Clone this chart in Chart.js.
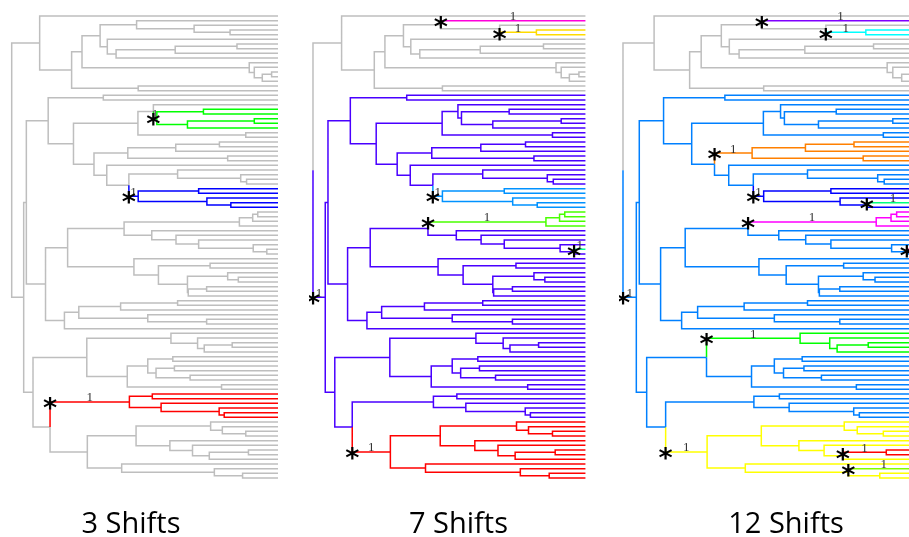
<!DOCTYPE html>
<html>
<head>
<meta charset="utf-8">
<script src="https://cdn.jsdelivr.net/npm/chart.js@4.4.1/dist/chart.umd.min.js"></script>
<style>
html,body{margin:0;padding:0;background:#fff;width:909px;height:537px;overflow:hidden;position:relative}
canvas{position:absolute;top:0}
</style>
</head>
<body>
<canvas id="c0"></canvas>
<canvas id="c1"></canvas>
<canvas id="c2"></canvas>
<script>
// ---------------- DATA ----------------
// Phylogeny: internal node = [depth (0 = root, 100 = tips), optional id, ...children]; leaf = tip number (top to bottom)
const TIP_DEPTH = 100;
const tree =
[0, "root",
  [10.5, "A",
    1,
    [22.5,
      [26.4,
        [33.2,
          [46.9, 2, [68.5, 3, [82.0, "n45", 4, 5]]],
          [35.9, 6, [39.2, [61.4, [84.6, 7, 8], 9], 10]]
        ],
        [89.2, 11, [91.1, 12, [94.1, [97.6, 13, 14], 15]]]
      ],
      [47.5, 16, 17]
    ]
  ],
  [4.5, "B",
    [5.5,
      [13.7,
        [34.4, 18, 19],
        [23.2,
          [47.4,
            [53.2, 20, [54.5, "gA", [72.0, 21, 22], [66.0, [91.1, 23, 24], 25]]],
            [87.9, 26, 27]
          ],
          [30.9,
            [43.6, "oR", [61.6, [78.0, 28, 29], 30], [81.1, 31, 32]],
            [35.7, 33,
              [44.0,
                [62.3, 34, [86.0, 35, [88.2, 36, 37]]],
                [47.5, "bL", [70.2, 38, 39], [73.3, 40, [82.3, 41, 42]]]
              ]
            ]
          ]
        ]
      ],
      [12.7,
        [21.0,
          [42.2,
            [85.5, "mG", [90.5, [92.4, 43, 44], 45], 46],
            [52.6, 47, [61.7, 48, [70.2, 49, [90.7, 50, [95.8, 51, 52]]]]]
          ],
          [45.9, 53,
            [55.1,
              [74.5, 54, 55],
              [66.0, [81.1, 56, [85.1, 57, 58]], [66.3, [73.2, 59, 60], 61]]
            ]
          ]
        ],
        [19.8,
          [25.2,
            [40.9, [62.3, 62, 63], 64],
            [51.1, 65, [73.2, 66, 67]]
          ],
          68
        ]
      ]
    ],
    [8.0,
      [28.2,
        [59.8, "gR", 69, [69.8, 70, [72.3, [82.8, 71, 72], 73]]],
        [43.4,
          [51.1, [60.5, 74, 75], [54.2, [61.1, 76, 77], [67.0, 78, 79]]],
          [78.8, 80, 81]
        ]
      ],
      [14.4,
        [44.2, "rD", [52.8, 82, 83], [56.1, 84, [77.9, 85, [79.8, 86, 87]]]],
        [28.4, "yL",
          [46.7,
            [74.7, 88, [79.1, 89, [87.9, 90, 91]]],
            [59.4, 92, [67.9, 93, [74.2, [88.9, "rE", 94, 95], 96]]]
          ],
          [41.3, 97, [76.1, 98, [86.7, 99, 100]]]
        ]
      ]
    ]
  ]
];

const panelTitles = ["3 Shifts", "7 Shifts", "12 Shifts"];
const backgroundColor = "#BEBEBE";
const branchLabel = "1";

// shifted branches (node id or tip number) and their regime colours
const shifts3 = ["gA", "bL", "rD"];
const colors3 = ["#00FF00", "#0000FF", "#FF0000"];
const shifts7 = ["B", 2, "n45", "bL", "mG", 51, "yL"];
const colors7 = ["#4900FF", "#FF00DB", "#FFDB00", "#0092FF", "#49FF00", "#00FF92", "#FF0000"];
const shifts12 = ["B", 2, "n45", "oR", "bL", 41, "mG", 51, "gR", "yL", "rE", 98];
const colors12 = ["#0080FF", "#8000FF", "#00FFFF", "#FF8000", "#0000FF", "#00FF80", "#FF00FF", "#FF0080", "#00FF00", "#FFFF00", "#FF0000", "#80FF00"];

// ---------------- LAYOUT (pixels) ----------------
const panelGeom = [
  {root: 11.7, tip: 278.0, title: 131},
  {root: 312.7, tip: 585.7, title: 458.5},
  {root: 622.7, tip: 919.4, title: 786}
];
const PAD_TOP = 16, TITLE_PAD = 32, TITLE_SIZE = 29;
const CANVAS_H = 539;

// ---------------- BUILD ----------------
function layoutTree(node) {
  if (typeof node === 'number') return {tip: node, d: TIP_DEPTH, y: node, kids: []};
  let rest = node.slice(1), id = null;
  if (typeof rest[0] === 'string') { id = rest[0]; rest = rest.slice(1); }
  const kids = rest.map(layoutTree);
  return {id, d: node[0], y: (kids[0].y + kids[kids.length - 1].y) / 2, kids};
}
const laid = layoutTree(tree);

function collect(n, color, shiftMap, out, marks) {
  for (const k of n.kids) {
    const key = k.tip !== undefined ? k.tip : k.id;
    let c = color;
    if (key !== null && shiftMap.has(key)) {
      c = shiftMap.get(key);
      marks.push({pd: n.d, cd: k.d, cy: k.y});
    }
    if (!out.has(c)) out.set(c, []);
    out.get(c).push({x: n.d, y: n.y}, {x: n.d, y: k.y}, {x: k.d, y: k.y}, {x: k.d, y: null});
    collect(k, c, shiftMap, out, marks);
  }
}

const shiftMarks = {
  id: 'shiftMarks',
  afterDatasetsDraw(chart, args, opts) {
    const {ctx} = chart, xs = chart.scales.x, ys = chart.scales.y;
    ctx.save();
    for (const m of opts.marks) {
      const px = xs.getPixelForValue(m.pd);
      const py = ys.getPixelForValue(m.cy);
      const mx = xs.getPixelForValue((m.pd + m.cd) / 2);
      ctx.font = '13px "Liberation Serif"';
      ctx.fillStyle = '#333';
      ctx.textAlign = 'center';
      ctx.textBaseline = 'alphabetic';
      ctx.fillText(branchLabel, mx, py - 0.5);
      ctx.font = 'bold 27px "DejaVu Sans"';
      ctx.fillStyle = '#000';
      const mt = ctx.measureText('*');
      const cy = py + 1.7;
      ctx.fillText('*', px, cy + (mt.actualBoundingBoxAscent - mt.actualBoundingBoxDescent) / 2);
    }
    ctx.restore();
  }
};

function makePanel(i, shifts, colors) {
  const g = panelGeom[i];
  const half = Math.max(g.title - g.root, g.tip - g.title) + 4;
  const left = g.title - half, width = 2 * half;
  const cv = document.getElementById('c' + i);
  cv.width = width; cv.height = CANVAS_H;
  cv.style.left = left + 'px';
  cv.style.width = width + 'px'; cv.style.height = CANVAS_H + 'px';
  const unit = (g.tip - g.root) / TIP_DEPTH;
  const xmin = (left - g.root) / unit, xmax = (left + width - g.root) / unit;

  const shiftMap = new Map(shifts.map((s, j) => [s, colors[j]]));
  const segs = new Map();
  const marks = [];
  collect(laid, backgroundColor, shiftMap, segs, marks);
  const datasets = [];
  for (const [c, pts] of segs) {
    if (c === backgroundColor) continue;
    datasets.push({data: pts, borderColor: c});
  }
  datasets.push({data: segs.get(backgroundColor) || [], borderColor: backgroundColor});
  datasets.forEach(ds => Object.assign(ds, {
    showLine: true, pointRadius: 0, borderWidth: 1.5, spanGaps: false, clip: false,
    borderCapStyle: 'butt', borderJoinStyle: 'miter', tension: 0
  }));

  new Chart(cv, {
    type: 'scatter',
    data: {datasets},
    options: {
      responsive: false, animation: false, devicePixelRatio: 1,
      layout: {padding: {top: PAD_TOP, left: 0, right: 0, bottom: 0}},
      scales: {
        x: {type: 'linear', display: false, min: xmin, max: xmax},
        y: {type: 'linear', display: false, min: 1, max: 100, reverse: true}
      },
      plugins: {
        legend: {display: false},
        tooltip: {enabled: false},
        title: {display: true, text: panelTitles[i], position: 'bottom', color: '#000',
          font: {family: '"Open Sans"', size: TITLE_SIZE, weight: 'normal', lineHeight: 1},
          padding: {top: TITLE_PAD, bottom: 0}},
        shiftMarks: {marks}
      }
    },
    plugins: [shiftMarks]
  });
}

makePanel(0, shifts3, colors3);
makePanel(1, shifts7, colors7);
makePanel(2, shifts12, colors12);
</script>
</body>
</html>
